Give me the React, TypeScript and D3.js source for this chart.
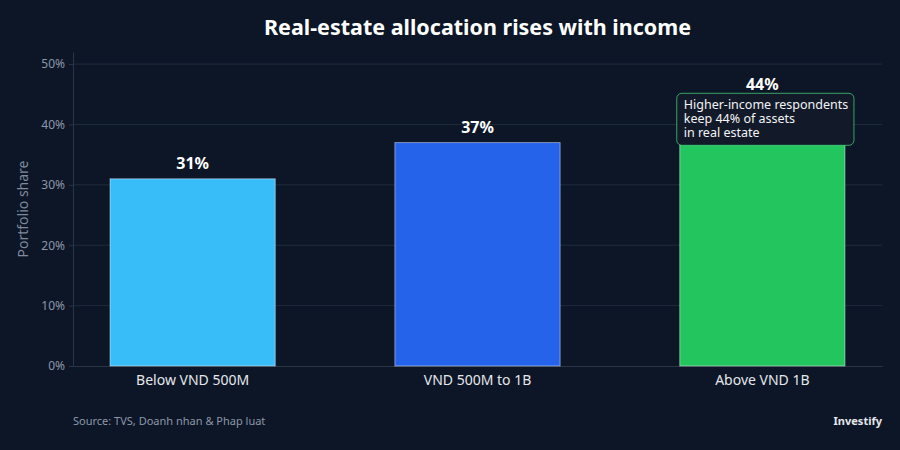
import { useEffect, useRef } from 'react';
import * as d3 from 'd3';

const width = 900;
const height = 450;
const margin = { top: 52, right: 18, bottom: 84, left: 73 };

const categories = ['Below VND 500M', 'VND 500M to 1B', 'Above VND 1B'];
const shares = [31, 37, 44];
const barColors = ['#38bdf8', '#2563eb', '#22c55e'];
const yTicks = [0, 10, 20, 30, 40, 50];
const noteLines = ['Higher-income respondents', 'keep 44% of assets', 'in real estate'];

const font = '"Noto Sans", "Open Sans", sans-serif';

const App = () => {
  const ref = useRef<SVGSVGElement>(null);

  useEffect(() => {
    const svg = d3.select(ref.current);
    svg.selectAll('*').remove();

    svg.append('rect').attr('width', width).attr('height', height).attr('fill', '#0c1627');

    const innerW = width - margin.left - margin.right;
    const innerH = height - margin.top - margin.bottom;

    const x = d3.scaleBand<string>().domain(categories).range([0, innerW]).paddingInner(0.42).paddingOuter(0.13);
    const y = d3.scaleLinear().domain([0, 52]).range([innerH, 0]);

    // title sits over the plot area
    svg
      .append('text')
      .attr('x', margin.left + innerW / 2)
      .attr('y', 35)
      .attr('text-anchor', 'middle')
      .attr('fill', '#ffffff')
      .attr('font-family', font)
      .attr('font-size', 21.5)
      .attr('font-weight', 700)
      .text('Real-estate allocation rises with income');

    const g = svg.append('g').attr('transform', `translate(${margin.left}, ${margin.top})`);

    // gridlines
    g.append('g')
      .selectAll('line')
      .data(yTicks.filter((t) => t > 0))
      .join('line')
      .attr('x1', 0)
      .attr('x2', innerW)
      .attr('y1', (d) => y(d))
      .attr('y2', (d) => y(d))
      .attr('stroke', '#1f2b3c')
      .attr('stroke-width', 1);

    // y axis
    const yAxis = g
      .append('g')
      .call(
        d3
          .axisLeft(y)
          .tickValues(yTicks)
          .tickFormat((d) => `${d}%`)
          .tickSize(4)
          .tickSizeOuter(0)
      );
    yAxis.select('.domain').attr('stroke', '#2a3546');
    yAxis.selectAll('.tick line').attr('stroke', '#2a3546');
    yAxis
      .selectAll('.tick text')
      .attr('fill', '#8d97a8')
      .attr('font-family', font)
      .attr('font-size', 12)
      .attr('dx', '-1');

    // x axis
    const xAxis = g
      .append('g')
      .attr('transform', `translate(0, ${innerH})`)
      .call(d3.axisBottom(x).tickSize(0).tickPadding(9));
    xAxis.select('.domain').attr('stroke', '#2a3546');
    xAxis
      .selectAll('.tick text')
      .attr('fill', '#e5e7eb')
      .attr('font-family', font)
      .attr('font-size', 14);

    svg
      .append('text')
      .attr('transform', `translate(28, ${margin.top + innerH / 2}) rotate(-90)`)
      .attr('text-anchor', 'middle')
      .attr('fill', '#7f8a9c')
      .attr('font-family', font)
      .attr('font-size', 14)
      .text('Portfolio share');

    // bars
    g.append('g')
      .selectAll('rect')
      .data(categories)
      .join('rect')
      .attr('x', (d) => x(d)!)
      .attr('y', (_, i) => y(shares[i]))
      .attr('width', x.bandwidth())
      .attr('height', (_, i) => innerH - y(shares[i]))
      .attr('fill', (_, i) => barColors[i])
      .attr('stroke', 'rgba(255,255,255,0.45)')
      .attr('stroke-width', 1);

    // value labels
    g.append('g')
      .selectAll('text')
      .data(categories)
      .join('text')
      .attr('x', (d) => x(d)! + x.bandwidth() / 2)
      .attr('y', (_, i) => y(shares[i]) - 10)
      .attr('text-anchor', 'middle')
      .attr('fill', '#ffffff')
      .attr('font-family', font)
      .attr('font-size', 16)
      .attr('font-weight', 700)
      .text((_, i) => `${shares[i]}%`);

    // callout box on the top bar
    const top = categories[2];
    const bx = x(top)! - 3;
    const by = y(shares[2]) - 7;
    const note = g.append('g').attr('transform', `translate(${bx}, ${by})`);
    note
      .append('rect')
      .attr('width', x.bandwidth() + 12)
      .attr('height', 52)
      .attr('rx', 5)
      .attr('fill', '#121a29')
      .attr('stroke', '#4ade80')
      .attr('stroke-opacity', 0.7)
      .attr('stroke-width', 1);
    note
      .selectAll('text')
      .data(noteLines)
      .join('text')
      .attr('x', 7)
      .attr('y', (_, i) => 16 + i * 14)
      .attr('fill', '#f3f4f6')
      .attr('font-family', font)
      .attr('font-size', 12.5)
      .text((d) => d);

    // footer
    svg
      .append('text')
      .attr('x', margin.left)
      .attr('y', 425)
      .attr('fill', '#8d97a8')
      .attr('font-family', font)
      .attr('font-size', 11)
      .text('Source: TVS, Doanh nhan & Phap luat');
    svg
      .append('text')
      .attr('x', width - margin.right)
      .attr('y', 425)
      .attr('text-anchor', 'end')
      .attr('fill', '#e5e7eb')
      .attr('font-family', font)
      .attr('font-size', 11)
      .attr('font-weight', 700)
      .text('Investify');
  }, []);

  return (
    <svg
      ref={ref}
      width={width}
      height={height}
      style={{ display: 'block', position: 'absolute', left: 0, top: 0 }}
    />
  );
};

export default App;
